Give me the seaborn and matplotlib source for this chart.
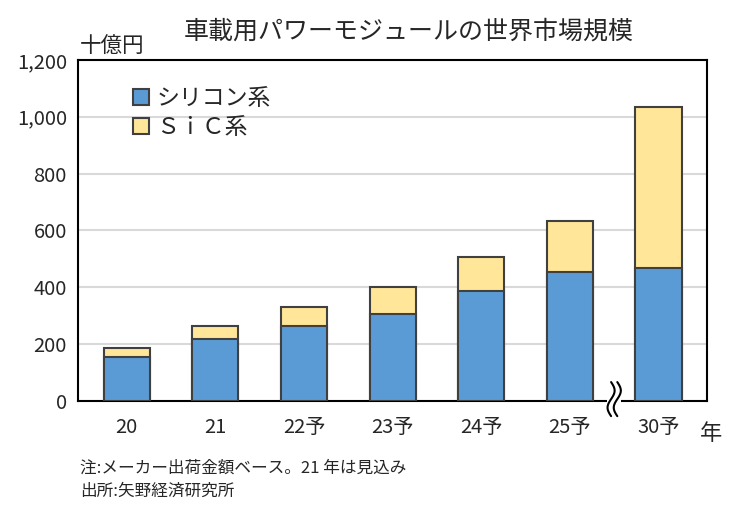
import numpy as np
import pandas as pd
import matplotlib
matplotlib.use("Agg")
import matplotlib.pyplot as plt
from matplotlib.patches import Patch
from matplotlib.ticker import FuncFormatter, FixedLocator
import seaborn as sns

# data (十億円)
years = ["20", "21", "22予", "23予", "24予", "25予", "30予"]
silicon = [153, 216, 262, 306, 385, 455, 468]
sic = [33, 48, 67, 95, 120, 177, 567]

BLUE = "#5B9BD5"
YELLOW = "#FFE699"
EDGE = "#404040"

sns.set_style("white")
plt.rcParams["font.family"] = ["Noto Sans CJK JP", "DejaVu Sans"]

df = pd.DataFrame({"year": years, "silicon": silicon, "sic": sic})
df["total"] = df["silicon"] + df["sic"]

fig = plt.figure(figsize=(7.5, 5.26), dpi=100)
ax = fig.add_axes([0.104, 0.238, 0.839, 0.648])

# stacked: draw totals (SiC on top) first, then silicon over it
sns.barplot(data=df, x="year", y="total", color=YELLOW, edgecolor=EDGE,
            linewidth=1.5, width=0.52, saturation=1, ax=ax, zorder=3)
sns.barplot(data=df, x="year", y="silicon", color=BLUE, edgecolor=EDGE,
            linewidth=1.5, width=0.52, saturation=1, ax=ax, zorder=4)

ax.set_xlim(-0.55, 6.55)
ax.set_ylim(0, 1200)
ax.set_yticks(range(0, 1201, 200))
ax.yaxis.set_major_formatter(FuncFormatter(lambda v, p: f"{int(v):,}"))
ax.grid(axis="y", color="#d9d9d9", linewidth=1.5, zorder=0)
ax.set_axisbelow(True)
ax.set_xlabel("")
ax.set_ylabel("")

for s in ax.spines.values():
    s.set_color("black")
    s.set_linewidth(1.5)

ax.tick_params(axis="y", length=0, labelsize=14.5, pad=8)
ax.tick_params(axis="x", which="major", length=0, labelsize=14.5, pad=12)
ax.xaxis.set_minor_locator(FixedLocator([0.5, 1.5, 2.5, 3.5, 4.5]))
ax.tick_params(axis="x", which="minor", direction="in", length=6, width=1.5,
               color="black")

# axis break between 25予 and 30予
trans = ax.get_xaxis_transform()
ax.add_patch(plt.Rectangle((5.42, -0.03), 0.16, 0.06, transform=trans,
                           facecolor="white", edgecolor="none",
                           clip_on=False, zorder=6))
ys = np.linspace(-0.045, 0.055, 30)
for dx in (-0.035, 0.035):
    xs = 5.5 + dx + 0.04 * np.sin((ys - 0.005) / 0.1 * 2 * np.pi)
    ax.plot(xs, ys, color="black", lw=1.5, transform=trans,
            clip_on=False, zorder=7)

handles = [Patch(facecolor=BLUE, edgecolor=EDGE, linewidth=1.5, label="シリコン系"),
           Patch(facecolor=YELLOW, edgecolor=EDGE, linewidth=1.5, label="ＳｉＣ系")]
ax.legend(handles=handles, loc="upper left", bbox_to_anchor=(0.055, 0.98),
          frameon=False, fontsize=16.5, handlelength=0.7, handleheight=0.7,
          handletextpad=0.3, labelspacing=0.25)

fig.text(0.545, 0.94, "車載用パワーモジュールの世界市場規模", ha="center",
         va="center", fontsize=18)
fig.text(0.106, 0.91, "十億円", ha="left", va="center", fontsize=15.5)
fig.text(0.933, 0.176, "年", ha="left", va="center", fontsize=16)
fig.text(0.107, 0.11, "注:メーカー出荷金額ベース。21 年は見込み", ha="left",
         va="center", fontsize=12)
fig.text(0.107, 0.066, "出所:矢野経済研究所", ha="left", va="center",
         fontsize=12)

fig.savefig("out.png", dpi=100)
